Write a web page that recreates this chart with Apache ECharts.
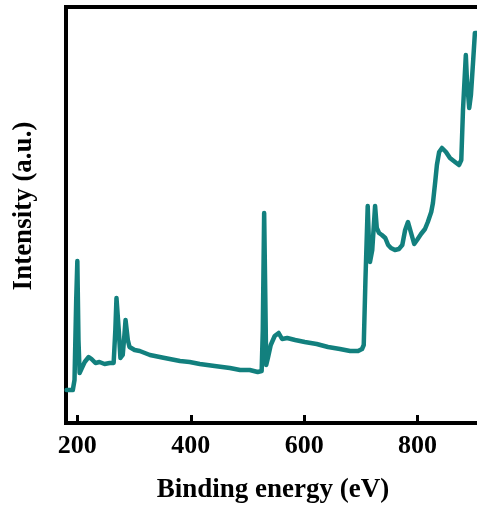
<!DOCTYPE html>
<html>
<head>
<meta charset="utf-8">
<script src="https://cdn.jsdelivr.net/npm/echarts@6/dist/echarts.min.js"></script>
<style>
html,body{margin:0;padding:0;background:#fff;}
#chart{width:477px;height:511px;}
</style>
</head>
<body>
<div id="chart"></div>
<script>
// Binding energy (eV)
var energy = [181,192,195,198,200,202,204,208,213,220,225,232,239,248,257,264,267,269,273,276,280,283,285,289,292,301,310,328,354,381,398,416,442,469,487,504,518,525,527,529.4,531.5,533,536,541,548,555,561,570,584,601,622,642,663,681,695,702,705,708,712,714,716,720,725,728,732,737,743,748,753,760,767,773,778,783,788,794,799,806,813,818,824,827,831,834,838,843,850,857,866,873,877,880,885,887,891,894,898,901,905];
// Intensity (a.u.)
var intensity = [33,33,43,123,162,83,50,55,61,66,64,60,61,59,60,60,93,125,93,65,68,88,103,83,76,73,72,68,65,62,61,59,57,55,53,53,51,52,93,210,123,58,65,78,87,90,84,85,83,81,79,76,74,72,72,74,78,143,217,183,161,173,217,195,190,188,185,178,175,173,174,178,193,201,191,179,183,189,194,201,211,220,241,258,271,275,271,265,261,258,263,313,368,343,315,328,363,390,390];
var xTicks = [200, 400, 600, 800];

var data = energy.map(function(e, i){ return [e, intensity[i]]; });
var chart = echarts.init(document.getElementById('chart'));
var font = 'Liberation Serif';
chart.setOption({
  animation: false,
  backgroundColor: '#fff',
  grid: {left: 66, right: -3, top: 7, bottom: 88, show: true, borderColor: '#000', borderWidth: 4, backgroundColor: 'transparent', outerBoundsMode: 'none', containLabel: false},
  xAxis: {
    type: 'value', min: 180, max: 910,
    name: 'Binding energy (eV)', nameLocation: 'middle', nameGap: 54,
    nameTextStyle: {fontFamily: font, fontWeight: 'bold', fontSize: 27, color: '#000'},
    axisLine: {show: true, lineStyle: {color: '#000', width: 4}},
    axisTick: {show: true, inside: true, length: 8, lineStyle: {color: '#000', width: 3}, customValues: xTicks},
    axisLabel: {customValues: xTicks, margin: 10, fontFamily: font, fontWeight: 'bold', fontSize: 26, color: '#000'},
    splitLine: {show: false}
  },
  yAxis: {
    type: 'value', min: 0, max: 416,
    name: 'Intensity (a.u.)', nameLocation: 'middle', nameGap: 28, nameRotate: 90,
    nameTextStyle: {fontFamily: font, fontWeight: 'bold', fontSize: 27, color: '#000', padding: [0, 0, 0, 18]},
    axisLine: {show: true, lineStyle: {color: '#000', width: 4}},
    axisTick: {show: false}, axisLabel: {show: false}, splitLine: {show: false}
  },
  series: [{
    type: 'line', data: data, showSymbol: false, smooth: false,
    lineStyle: {color: '#12807e', width: 4.5, join: 'round', cap: 'round'},
    itemStyle: {color: '#12807e'}
  }]
});
</script>
</body>
</html>
